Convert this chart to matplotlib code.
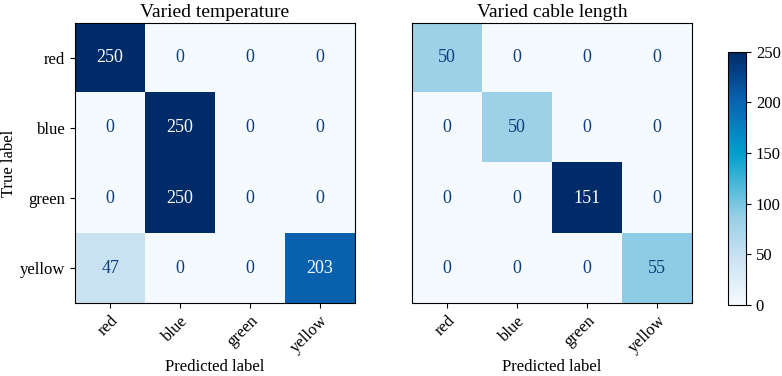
import numpy as np
import matplotlib
matplotlib.use("Agg")
import matplotlib.pyplot as plt
from matplotlib.colors import LinearSegmentedColormap, Normalize
import matplotlib.cm as cm

plt.rcParams['font.family'] = ['Liberation Serif', 'DejaVu Serif']

labels = ["red", "blue", "green", "yellow"]
cm_temperature = [[250, 0, 0, 0],
                  [0, 250, 0, 0],
                  [0, 250, 0, 0],
                  [47, 0, 0, 203]]
cm_cable = [[50, 0, 0, 0],
            [0, 50, 0, 0],
            [0, 0, 151, 0],
            [0, 0, 0, 55]]
titles = ["Varied temperature", "Varied cable length"]
cbar_ticks = [0, 50, 100, 150, 200, 250]

cmap = LinearSegmentedColormap.from_list(
    "custom_blues",
    [(0.0, "#f5fafe"), (0.19, "#c9e2f2"), (0.35, "#96cfe7"),
     (0.6, "#00a0cc"), (0.81, "#0a62ae"), (1.0, "#002b69")])

fig = plt.figure(figsize=(7.82, 3.76), dpi=100)
ax1 = fig.add_axes([0.096, 0.194, 0.358, 0.745])
ax2 = fig.add_axes([0.527, 0.194, 0.358, 0.745])
cax = fig.add_axes([0.931, 0.189, 0.023, 0.673])

for ax, mat, title in zip([ax1, ax2], [cm_temperature, cm_cable], titles):
    mat = np.array(mat)
    vmax = mat.max()
    ax.imshow(mat, cmap=cmap, vmin=0, vmax=vmax, aspect='auto', interpolation='nearest')
    thresh = vmax / 2
    for i in range(mat.shape[0]):
        for j in range(mat.shape[1]):
            color = "white" if mat[i, j] > thresh else "#0b3e7a"
            ax.text(j, i, str(mat[i, j]), ha="center", va="center", color=color, fontsize=13)
    ax.set_xticks(range(len(labels)))
    ax.set_xticklabels(labels, rotation=45, ha="right", rotation_mode="anchor", fontsize=12)
    ax.set_title(title, fontsize=14, pad=4)
    ax.set_xlabel("Predicted label", fontsize=12, labelpad=2)
    ax.tick_params(length=3.5)

ax1.set_yticks(range(len(labels)))
ax1.set_yticklabels(labels, fontsize=12)
ax1.set_ylabel("True label", fontsize=12, labelpad=2)
ax2.set_yticks([])

sm = cm.ScalarMappable(norm=Normalize(0, 250), cmap=cmap)
cb = fig.colorbar(sm, cax=cax)
cb.set_ticks(cbar_ticks)
cb.ax.tick_params(labelsize=12, length=3.5)

fig.savefig("out.png", dpi=100)
